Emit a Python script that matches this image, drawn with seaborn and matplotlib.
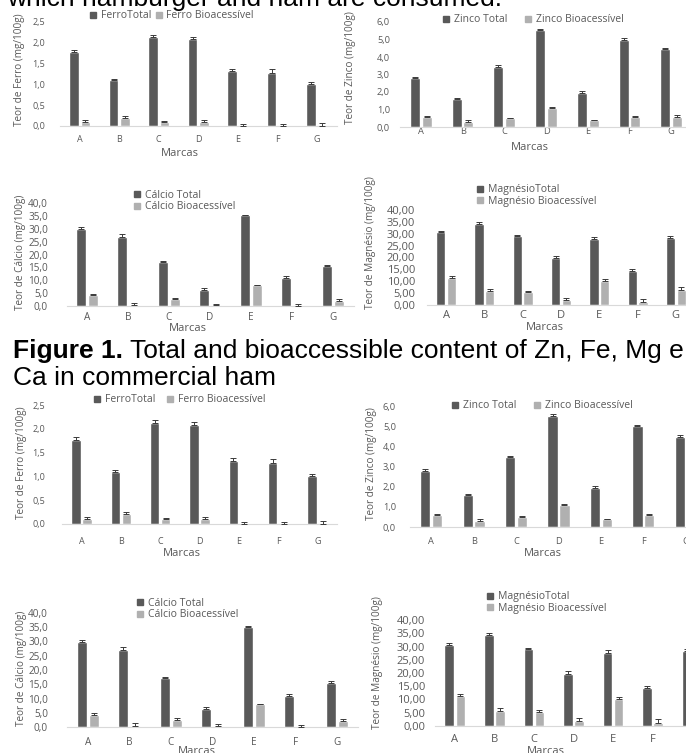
import numpy as np
import pandas as pd
import matplotlib
matplotlib.use("Agg")
import matplotlib.pyplot as plt
import seaborn as sns
from matplotlib.lines import Line2D

# ---- data (same values in both figures of the page) ----
marcas = ["A", "B", "C", "D", "E", "F", "G"]

ferro_total = [1.77, 1.10, 2.13, 2.09, 1.32, 1.28, 1.01]
ferro_total_dp = [0.06, 0.04, 0.05, 0.06, 0.06, 0.08, 0.05]
ferro_bio = [0.10, 0.20, 0.10, 0.10, 0.0, 0.0, 0.0]
ferro_bio_dp = [0.04, 0.05, 0.03, 0.05, 0.05, 0.05, 0.07]

zinco_total = [2.80, 1.58, 3.45, 5.52, 1.95, 5.00, 4.47]
zinco_total_dp = [0.07, 0.08, 0.07, 0.07, 0.08, 0.07, 0.07]
zinco_bio = [0.60, 0.30, 0.50, 1.08, 0.40, 0.60, 0.58]
zinco_bio_dp = [0.03, 0.08, 0.03, 0.07, 0.02, 0.03, 0.08]

calcio_total = [30.0, 26.9, 17.1, 6.3, 35.2, 10.9, 15.4]
calcio_total_dp = [0.7, 1.1, 0.4, 0.6, 0.2, 0.7, 0.6]
calcio_bio = [4.2, 0.4, 2.6, 0.5, 8.1, 0.1, 2.1]
calcio_bio_dp = [0.6, 0.9, 0.5, 0.4, 0.1, 0.7, 0.8]

magnesio_total = [30.7, 34.2, 28.9, 19.7, 27.7, 14.2, 28.2]
magnesio_total_dp = [0.6, 0.8, 0.5, 0.9, 0.8, 1.0, 0.9]
magnesio_bio = [11.5, 5.7, 5.3, 2.0, 10.1, 1.3, 6.3]
magnesio_bio_dp = [0.7, 1.1, 0.7, 1.1, 1.0, 1.4, 1.1]

texto_topo = "which hamburger and ham are consumed."
legenda_negrito = "Figure 1."
legenda_linha1 = "Total and bioaccessible content of Zn, Fe, Mg e"
legenda_linha2 = "Ca in commercial ham"

elementos = {
    "ferro": dict(total=ferro_total, total_dp=ferro_total_dp, bio=ferro_bio, bio_dp=ferro_bio_dp,
                  nomes=("FerroTotal", "Ferro Bioacessível"), ylabel="Teor de Ferro (mg/100g)",
                  ymax=2.5, passo=0.5, casas=1),
    "zinco": dict(total=zinco_total, total_dp=zinco_total_dp, bio=zinco_bio, bio_dp=zinco_bio_dp,
                  nomes=("Zinco Total", "Zinco Bioacessível"), ylabel="Teor de Zinco (mg/100g)",
                  ymax=6.0, passo=1.0, casas=1),
    "calcio": dict(total=calcio_total, total_dp=calcio_total_dp, bio=calcio_bio, bio_dp=calcio_bio_dp,
                   nomes=("Cálcio Total", "Cálcio Bioacessível"), ylabel="Teor de Cálcio (mg/100g)",
                   ymax=40.0, passo=5.0, casas=1),
    "magnesio": dict(total=magnesio_total, total_dp=magnesio_total_dp, bio=magnesio_bio, bio_dp=magnesio_bio_dp,
                     nomes=("MagnésioTotal", "Magnésio Bioacessível"), ylabel="Teor de Magnésio (mg/100g)",
                     ymax=40.0, passo=5.0, casas=2),
}

# ---- layout, in pixels of the 686x753 page ----
W, H = 686, 753
ESCURO = "#595959"
CLARO = "#b0b0b0"
TEXTO = "#595959"
ERRO = "#3a3a3a"

# key, (left, right, y zero, y top), tick size, ytick gap, xtick offset,
# legend (x, y, ncol, colspacing), ylabel (x, y), "Marcas" (x, y)
paineis = [
    ("ferro", (60, 336.5, 126, 22), 6.5, 15, 16, (93, 16, 2, 0.3), (20, 70), (180, 153)),
    ("zinco", (400, 692, 127, 22), 6.7, 10, 7, (446, 20, 2, 1.6), (351, 68), (530, 147)),
    ("calcio", (66.5, 353.5, 306, 203), 7.2, 18.5, 13, (137, 201, 1, 1), (21, 252), (188, 328)),
    ("magnesio", (427, 695, 305, 210), 8.0, 12, 13, (480, 195.5, 1, 1), (370, 243), (545, 327)),
    ("ferro", (62, 337, 524, 405), 6.5, 17, 19, (97, 400, 2, 1.0), (22, 463), (182, 553)),
    ("zinco", (410, 707, 527, 406), 6.7, 14, 17, (455, 406, 2, 1.6), (371, 464), (543, 553)),
    ("calcio", (67, 357.5, 727, 613), 7.2, 19, 17, (140, 609, 1, 1), (22, 668), (197, 752)),
    ("magnesio", (435, 712, 726, 620), 8.0, 10, 16, (490, 602.5, 1, 1), (378, 663), (546, 752)),
]

sns.set_style("white")
plt.rcParams["font.family"] = ["Open Sans", "DejaVu Sans"]
PX = 100 / 72  # pixels per point


def fig_xy(x, y):
    return x / W, 1 - y / H


def desenha(fig, chave, caixa, fs, ygap, xoff, leg, ylab, xlab):
    d = elementos[chave]
    left, right, y0, ytop = caixa
    ax = fig.add_axes([left / W, 1 - y0 / H, (right - left) / W, (y0 - ytop) / H])
    ax.patch.set_alpha(0)

    df = pd.DataFrame({
        "Marca": marcas * 2,
        "Serie": [d["nomes"][0]] * len(marcas) + [d["nomes"][1]] * len(marcas),
        "Valor": d["total"] + d["bio"],
    })
    sns.barplot(data=df, x="Marca", y="Valor", hue="Serie", palette=[ESCURO, CLARO],
                width=0.56, gap=0.14, errorbar=None, saturation=1, legend=False, ax=ax)

    # only the "plus" side of the error bar, as in the original spreadsheet chart
    for barras, dp in zip(ax.containers, [d["total_dp"], d["bio_dp"]]):
        xs = [b.get_x() + b.get_width() / 2 for b in barras]
        hs = [b.get_height() for b in barras]
        ax.errorbar(xs, hs, yerr=[np.zeros(len(dp)), dp], fmt="none", ecolor=ERRO,
                    elinewidth=0.7, capsize=2.2, capthick=0.7, zorder=3)

    ax.set_xlim(-0.5, len(marcas) - 0.5)
    ax.set_ylim(0, d["ymax"])
    ticks = np.arange(0, d["ymax"] + d["passo"] / 2, d["passo"])
    ax.set_yticks(ticks)
    ax.set_yticklabels([f"{t:.{d['casas']}f}".replace(".", ",") for t in ticks])
    ax.set_xlabel("")
    ax.set_ylabel("")
    em = fs * PX
    ax.tick_params(axis="y", length=0, pad=ygap / PX, labelsize=fs, labelcolor=TEXTO)
    ax.tick_params(axis="x", length=0, pad=max(xoff - 0.72 * em, 0) / PX, labelsize=fs, labelcolor=TEXTO)
    sns.despine(ax=ax, left=True)
    ax.spines["bottom"].set_color("#d9d9d9")
    ax.spines["bottom"].set_linewidth(0.8)

    lx, ly, ncol, colsp = leg
    alças = [Line2D([], [], ls="", marker="s", markersize=4.6, color=c) for c in (ESCURO, CLARO)]
    ax.legend(alças, d["nomes"], loc="center left", bbox_to_anchor=fig_xy(lx - 4, ly),
              bbox_transform=fig.transFigure, ncol=ncol, frameon=False, fontsize=7.5,
              handlelength=0.8, handletextpad=0.35, columnspacing=colsp, borderpad=0,
              borderaxespad=0, labelspacing=0.05, labelcolor=TEXTO)

    fig.text(*fig_xy(*ylab), d["ylabel"], rotation=90, ha="center", va="center",
             fontsize=7.2, color=TEXTO)
    fig.text(*fig_xy(*xlab), "Marcas", ha="center", va="center", fontsize=8, color=TEXTO)
    return ax


fig = plt.figure(figsize=(W / 100, H / 100), dpi=100)
fig.patch.set_facecolor("white")

for chave, caixa, fs, ygap, xoff, leg, ylab, xlab in paineis:
    desenha(fig, chave, caixa, fs, ygap, xoff, leg, ylab, xlab)

# page text around the figures (Arial-like)
pagina = dict(family=["Liberation Sans", "DejaVu Sans"], fontsize=19, color="black", va="baseline")
fig.text(*fig_xy(7, 6), texto_topo, **pagina)
negrito = fig.text(*fig_xy(13, 358), legenda_negrito, weight="bold", **pagina)
fig.canvas.draw()
x_fim = negrito.get_window_extent().x1
fig.text((x_fim + 7) / W, 1 - 358 / H, legenda_linha1, **pagina)
fig.text(*fig_xy(13, 385), legenda_linha2, **pagina)

fig.savefig("out.png", dpi=100)
